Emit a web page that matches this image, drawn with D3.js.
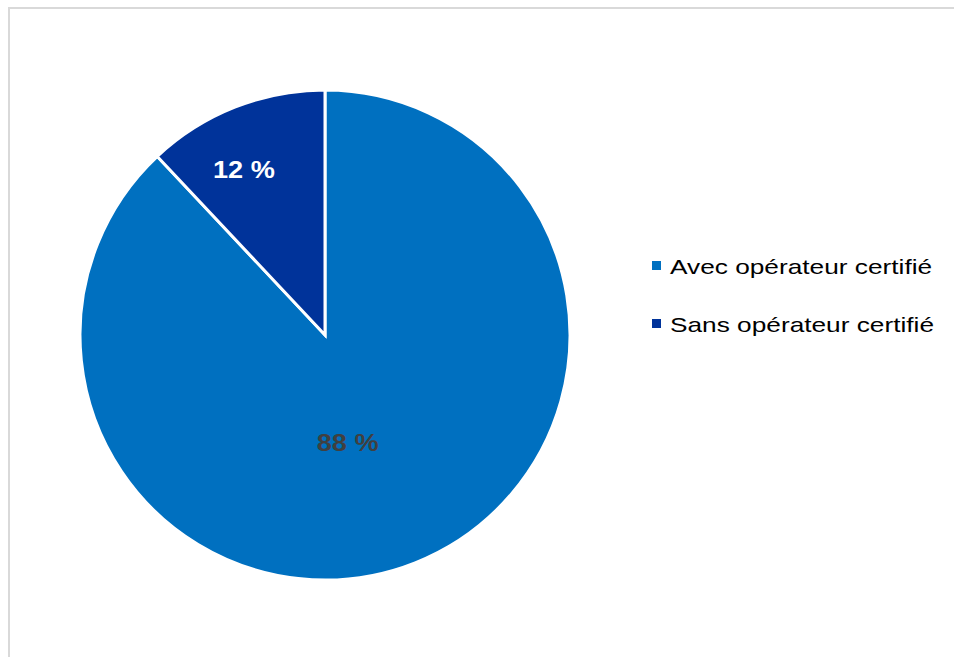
<!DOCTYPE html>
<html>
<head>
<meta charset="utf-8">
<script src="https://cdn.jsdelivr.net/npm/d3@7"></script>
<style>
  html, body { margin: 0; padding: 0; background: #fff; }
  svg { display: block; }
</style>
</head>
<body>
<svg id="chart" width="954" height="657"></svg>
<script>
// Share of cases with / without a certified operator (percent)
const categories = ["Avec opérateur certifié", "Sans opérateur certifié"];
const values = [88, 12];
const valueLabels = ["88 %", "12 %"];
const colors = ["#0070C0", "#00339A"];

const svg = d3.select("#chart");
const W = 954, H = 657;

// chart frame (right/bottom edges run past the page)
svg.append("rect")
  .attr("x", 9).attr("y", 8)
  .attr("width", W + 20).attr("height", H + 20)
  .attr("fill", "#fff")
  .attr("stroke", "#d9d9d9").attr("stroke-width", 2);

const cx = 325, cy = 335, R = 245;

const pie = d3.pie().sort(null).value(d => d)
  .startAngle(0).endAngle(2 * Math.PI);
const arcs = pie(values);

const arc = d3.arc().innerRadius(0).outerRadius(R);

const g = svg.append("g").attr("transform", `translate(${cx},${cy})`);

g.selectAll("path.slice")
  .data(arcs)
  .join("path")
  .attr("class", "slice")
  .attr("d", arc)
  .attr("fill", (d, i) => colors[i])
  .attr("stroke", "#fff")
  .attr("stroke-width", 3)
  .attr("stroke-linejoin", "miter");

// label placement: radius as share of R, angular shift in radians
const labelRadius = [0.45, 0.75];
const labelShift = [0.17, -0.08];
const labelFill = ["#404040", "#ffffff"];
const wide = 1.18; // horizontal widening of the label glyphs

g.selectAll("text.val")
  .data(arcs)
  .join("text")
  .attr("class", "val")
  .attr("transform", (d, i) => {
    const a = (d.startAngle + d.endAngle) / 2 + labelShift[i];
    const x = Math.sin(a) * R * labelRadius[i];
    const y = -Math.cos(a) * R * labelRadius[i];
    return `translate(${x},${y}) scale(${wide},1)`;
  })
  .attr("text-anchor", "middle")
  .attr("dominant-baseline", "central")
  .attr("font-family", "Liberation Sans, Arial, sans-serif")
  .attr("font-weight", "bold")
  .attr("font-size", 23)
  .attr("fill", (d, i) => labelFill[i])
  .text((d, i) => valueLabels[i]);

// legend
const legend = svg.append("g").attr("transform", "translate(652,266)");
const item = legend.selectAll("g.item")
  .data(categories)
  .join("g")
  .attr("class", "item")
  .attr("transform", (d, i) => `translate(0,${i * 58})`);

item.append("rect")
  .attr("x", 0).attr("y", -5)
  .attr("width", 9).attr("height", 9)
  .attr("fill", (d, i) => colors[i]);

item.append("text")
  .attr("transform", "translate(18,0) scale(1.25,1)")
  .attr("dominant-baseline", "central")
  .attr("font-family", "Liberation Sans, Arial, sans-serif")
  .attr("font-size", 21)
  .attr("fill", "#000")
  .text(d => d);
</script>
</body>
</html>
